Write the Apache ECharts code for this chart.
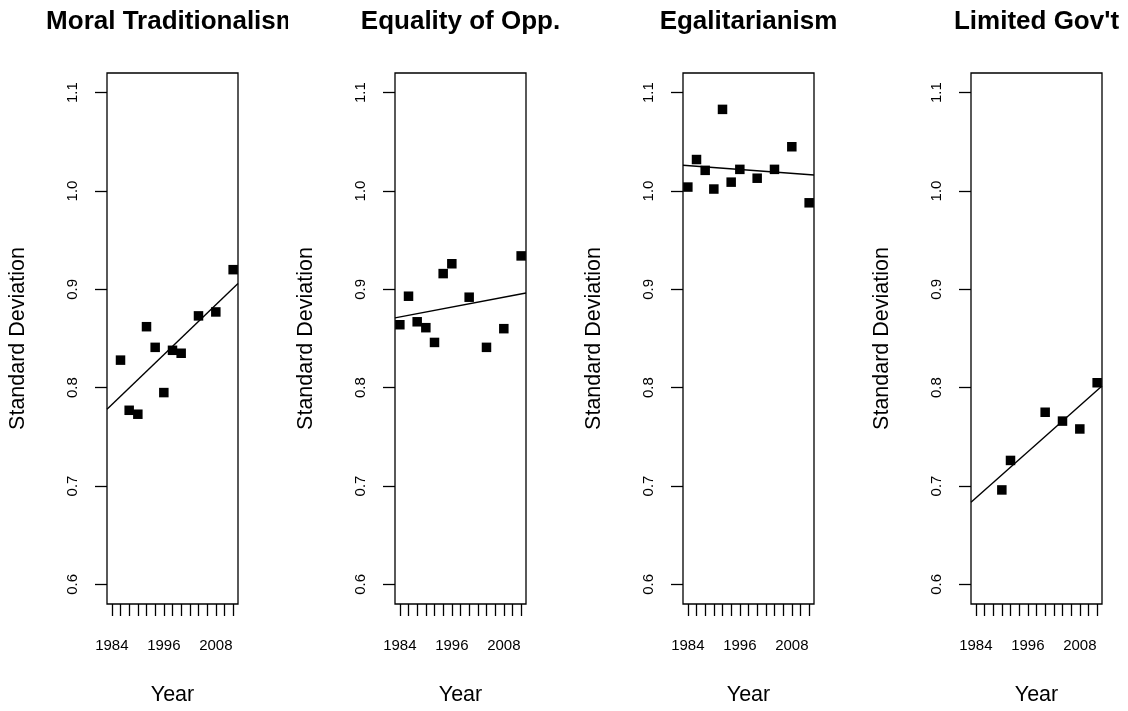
<!DOCTYPE html>
<html>
<head>
<meta charset="utf-8">
<script src="https://cdn.jsdelivr.net/npm/echarts@6/dist/echarts.min.js"></script>
<style>
  html, body { margin: 0; padding: 0; background: #ffffff; }
  #chart { width: 1128px; height: 711px; }
</style>
</head>
<body>
<div id="chart"></div>
<script>
// Standard deviation of each scale by survey year
const panelTitles = ['Moral Traditionalism', 'Equality of Opp.', 'Egalitarianism', "Limited Gov't"];

const moralYears = [1986, 1988, 1990, 1992, 1994, 1996, 1998, 2000, 2004, 2008, 2012];
const moralSD    = [0.828, 0.777, 0.773, 0.862, 0.841, 0.795, 0.838, 0.835, 0.873, 0.877, 0.920];

const equalYears = [1984, 1986, 1988, 1990, 1992, 1994, 1996, 2000, 2004, 2008, 2012];
const equalSD    = [0.864, 0.893, 0.867, 0.861, 0.846, 0.916, 0.926, 0.892, 0.841, 0.860, 0.934];

const egalYears  = [1984, 1986, 1988, 1990, 1992, 1994, 1996, 2000, 2004, 2008, 2012];
const egalSD     = [1.004, 1.032, 1.021, 1.002, 1.083, 1.009, 1.022, 1.013, 1.022, 1.045, 0.988];

const govYears   = [1990, 1992, 2000, 2004, 2008, 2012];
const govSD      = [0.696, 0.726, 0.775, 0.766, 0.758, 0.805];

// Axis tick marks and labels
const yearTicks  = [1984, 1986, 1988, 1990, 1992, 1994, 1996, 1998, 2000, 2002, 2004, 2006, 2008, 2010, 2012];
const yearLabels = [1984, 1996, 2008];
const sdTicks    = [0.6, 0.7, 0.8, 0.9, 1.0, 1.1];

const panels = [
  { years: moralYears, sd: moralSD },
  { years: equalYears, sd: equalSD },
  { years: egalYears,  sd: egalSD },
  { years: govYears,   sd: govSD }
];

// Plot limits (data range padded by 4% on each side)
const xMin = 1982.88, xMax = 2013.12;
const yMin = 0.58,    yMax = 1.12;

const FONT = '"Liberation Sans", Arial, Helvetica, sans-serif';

// Ordinary least squares fit, drawn across the whole plot region
function lsFit(xs, ys) {
  const n = xs.length;
  const mx = xs.reduce((a, b) => a + b, 0) / n;
  const my = ys.reduce((a, b) => a + b, 0) / n;
  let sxy = 0, sxx = 0;
  for (let i = 0; i < n; i++) {
    sxy += (xs[i] - mx) * (ys[i] - my);
    sxx += (xs[i] - mx) * (xs[i] - mx);
  }
  const slope = sxy / sxx;
  const icpt = my - slope * mx;
  return [[xMin, icpt + slope * xMin], [xMax, icpt + slope * xMax]];
}

const PANEL_LEFT0 = 107, PANEL_STEP = 288, PANEL_W = 131, PANEL_TOP = 73, PANEL_H = 535;

const grids = [], xAxes = [], yAxes = [], series = [], graphics = [];

panels.forEach((p, i) => {
  const left = PANEL_LEFT0 + PANEL_STEP * i;
  grids.push({
    left: left, top: PANEL_TOP, width: PANEL_W, height: PANEL_H,
    show: true, borderColor: '#000', borderWidth: 1.3, backgroundColor: 'transparent',
    containLabel: false
  });
  xAxes.push({
    type: 'value', gridIndex: i, min: xMin, max: xMax,
    axisLine: { show: false },
    splitLine: { show: false },
    axisTick: { show: true, length: 12, lineStyle: { color: '#000', width: 1.3 }, customValues: yearTicks },
    axisLabel: { color: '#000', fontFamily: FONT, fontSize: 15, margin: 34, customValues: yearLabels,
                 formatter: v => String(v) },
    name: 'Year', nameLocation: 'middle', nameGap: 80,
    nameTextStyle: { color: '#000', fontFamily: FONT, fontSize: 21.5 }
  });
  yAxes.push({
    type: 'value', gridIndex: i, min: yMin, max: yMax,
    axisLine: { show: false },
    splitLine: { show: false },
    axisTick: { show: true, length: 12, lineStyle: { color: '#000', width: 1.3 }, customValues: sdTicks },
    axisLabel: { color: '#000', fontFamily: FONT, fontSize: 15, rotate: 90, margin: 27, customValues: sdTicks,
                 formatter: v => v.toFixed(1) },
    name: 'Standard Deviation', nameLocation: 'middle', nameRotate: 90, nameGap: 78,
    nameTextStyle: { color: '#000', fontFamily: FONT, fontSize: 21.5 }
  });
  series.push({
    type: 'scatter', xAxisIndex: i, yAxisIndex: i,
    symbol: 'rect', symbolSize: 9.5,
    itemStyle: { color: '#000', opacity: 1 },
    data: p.years.map((y, k) => [y, p.sd[k]]),
    silent: true, z: 3
  });
  series.push({
    type: 'line', xAxisIndex: i, yAxisIndex: i,
    data: lsFit(p.years, p.sd),
    showSymbol: false, symbol: 'none',
    lineStyle: { color: '#000', width: 1.4 },
    clip: true, silent: true, z: 2
  });
  graphics.push({
    type: 'text', x: left + PANEL_W / 2, y: 22, z: 10,
    style: {
      text: panelTitles[i], fill: '#000',
      font: 'bold 26px ' + FONT,
      align: 'center', verticalAlign: 'middle',
      textAlign: 'center', textVerticalAlign: 'middle'
    }
  });
});

// Each title is confined to its own figure column
graphics.push({
  type: 'rect', z: 20,
  shape: { x: PANEL_STEP, y: 0, width: 60, height: 50 },
  style: { fill: '#fff' }
});

const chart = echarts.init(document.getElementById('chart'), null, { renderer: 'canvas' });
chart.setOption({
  animation: false,
  backgroundColor: '#fff',
  grid: grids,
  xAxis: xAxes,
  yAxis: yAxes,
  series: series,
  graphic: graphics
});
</script>
</body>
</html>
